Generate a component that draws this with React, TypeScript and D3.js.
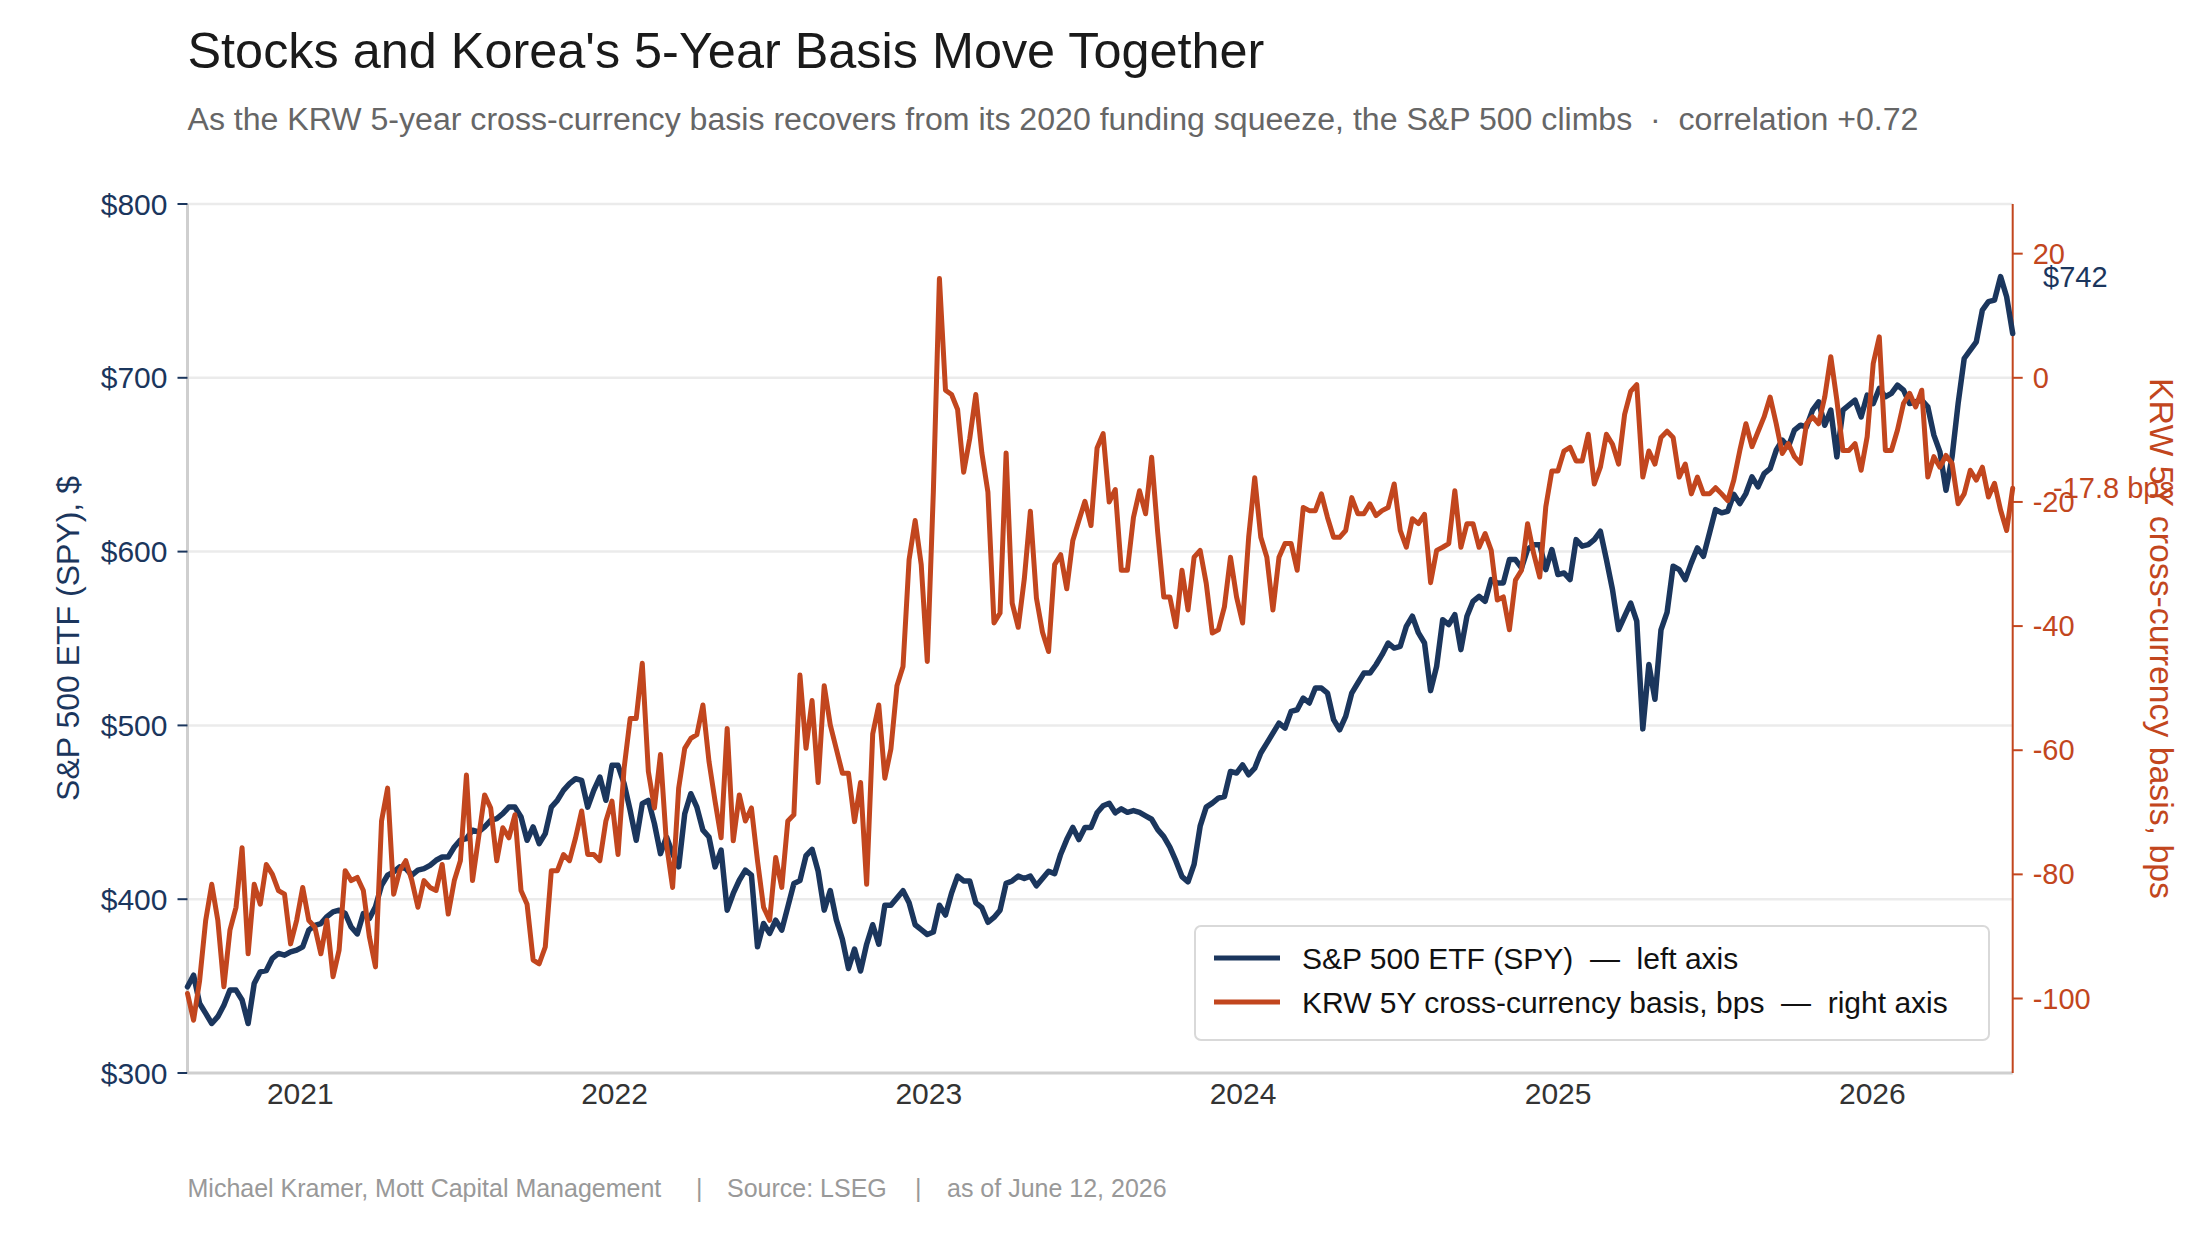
import React from "react";
import * as d3 from "d3";

// weekly samples, Aug 2020 -> Jun 2026
const spy: number[] = [
  349.6, 356.3, 340, 334.3, 328.5, 332.4, 339, 347.7, 347.7, 342,
  328.5, 351.5, 358.2, 359, 366, 368.8, 367.8, 369.7, 370.7, 372.6,
  382.2, 385, 386, 390, 392.7, 393.7, 391.8, 384, 380, 391.8,
  388.9, 395.6, 408, 413.8, 415.7, 418.6, 417.6, 413.8, 416.7, 417.6,
  419.5, 422.4, 424.3, 424.3, 430, 434, 434.9, 439.7, 438.7, 441.6,
  445.4, 446.4,
  449.2, 453, 453, 447.3, 433.9, 441.6, 432, 437.7, 453, 456.9,
  462.6, 466.5, 469.3, 468.4, 453, 462.6, 470.3, 456.9, 477, 477,
  466.5, 451.1, 433.9, 455, 456.9, 443.5, 426.2, 435.8, 426.2, 418.6,
  449.2, 460.7, 453, 439.7, 435.8, 418.6, 428.2, 393.7, 403.3, 410.9,
  416.7, 413.8, 372.6, 386, 380.3, 387.9, 382.2, 395.6, 409, 410.7,
  425,
  428.7, 416.1, 393.7, 404.9, 388.1, 376.9, 360.1, 371.3, 358.7, 374.1,
  385.3, 374.1, 396.5, 396.5, 400.7, 404.9, 397.9, 385.3, 382.5, 379.7,
  381.1, 396.5, 390.9, 403.5, 413.3, 410.5, 410.5, 397.9, 395.1, 386.7,
  389.5, 393.7, 409.1, 410.5, 413.3, 411.9, 413.3, 407.7, 411.9, 416.1,
  414.7, 425.9, 434.3, 441.3, 434.3, 441.3, 441.3, 449.7, 453.8, 455.2,
  449.7,
  452, 450, 451, 450, 448, 446, 440, 436, 430, 422, 413, 410, 420, 442, 453,
  455.3, 458.2, 459.1, 473.5, 472.6, 477.3, 471.6, 475.4, 484.1, 489.8,
  495.6, 501.3, 498.5, 508.1, 509, 515.7, 512.9, 521.5, 521.5, 518.6,
  503.3, 497.5, 505.2, 518.6, 524.4, 530.1, 530.1, 534.9, 540.7, 547.4,
  544.5, 545.5, 557, 562.8, 553.2, 547.4,
  520, 534, 560.8, 558, 563.7, 543.6, 562.8, 571.4, 574.3, 571.4,
  583.9, 582, 582, 595.4, 595.4, 590.6, 601.2, 604, 604, 589.6,
  601.2, 586.8, 587.7, 583.9, 606.9, 603.1, 604, 606.9, 611.7, 595.4,
  578.1, 555.1, 562.8, 570.4, 560, 498, 535, 515, 555, 565,
  591.6, 589.6, 583.9, 593.5, 602.1, 597.3, 610.7, 624.2, 622.3, 623.2,
  633, 627.6, 633.4, 643, 637.2, 644.9, 647.8, 658.3, 664.1, 660.3,
  669.9, 672.7, 671.8, 681.4, 686.2, 672.7, 681.4, 654.5, 681.4, 684.3,
  687.1, 677.5, 690, 685.2, 693.9, 689.1, 691, 695.8, 692.9, 685.2,
  686.2, 687.1, 683.3, 667, 657.4, 635.3, 654.5, 685.2, 711.1, 715.9,
  720.7, 739, 743.8, 744.7, 758.2, 746.6, 725.5,
];

const krw: number[] = [
  -99.2, -103.5, -97.1, -87.4, -81.6, -87.4, -98.1, -89, -85.3, -75.7,
  -92.8, -81.6, -84.8, -78.4, -80, -82.6, -83.2, -91.2, -87.4, -82.1,
  -87.4, -88.5, -92.8, -87.4, -96.5, -92.2, -79.4, -81, -80.5, -82.6,
  -90.1, -94.9, -71.4, -66.1, -83.2, -79.4, -77.8, -81, -85.3, -81,
  -82.1, -82.6, -78.4, -86.4, -81, -77.8, -64, -81, -74.1, -67.2,
  -69.3, -77.8,
  -72.5, -74.1, -70.4, -82.6, -84.8, -93.8, -94.4, -91.7, -79.4, -79.4,
  -76.8, -77.8, -74.1, -69.8, -76.8, -76.8, -77.8, -71.4, -68.2, -76.8,
  -62.9, -54.9, -54.9, -46, -63.4, -69.3, -60.7, -75.2, -82.1, -66.1,
  -59.7, -58.1, -57.5, -52.7, -61.8, -68.2, -74.1, -56.5, -74.6, -67.2,
  -71.4, -69.3, -77.8, -85.3, -87.4, -77.3, -82.1, -71.4, -70.4, -47.9,
  -59.7,
  -52, -65.2, -49.6, -55.9, -59.8, -63.7, -63.7, -71.5, -65.2, -81.6,
  -57.4, -52.7, -64.5, -59.8, -49.6, -46.5, -29.3, -23, -30.1, -45.7,
  -18.4, 16, -2, -2.7, -5.1, -15.2, -9.8, -2.7, -12.1, -18.4,
  -39.5, -37.9, -12.1, -36.3, -40.2, -32.4, -21.5, -35.5, -41, -44.1,
  -30.1, -28.5, -34, -26.2, -23, -19.9, -23.8, -11.3, -9, -20,
  -18,
  -31, -31, -22.5, -18.2, -21.9, -12.8, -24.9, -35.3, -35.3, -40.1,
  -31, -37.4, -28.9, -27.8, -33.1, -41.1, -40.6, -36.9, -28.9, -35.3,
  -39.5, -25.7, -16.1, -25.7, -28.9, -37.4, -28.9, -26.7, -26.7, -31,
  -20.9, -21.4, -21.4, -18.7, -22.5, -25.7, -25.7, -24.6, -19.3, -21.9,
  -21.9, -20.3, -22.2, -21.4, -20.9, -17.1, -24.6, -27.3, -22.7, -23.5,
  -22,
  -33, -27.8, -27.3, -26.7, -18.2, -27.3, -23.5, -23.5, -27.3, -25.1,
  -27.8, -35.8, -35.3, -40.6, -32.6, -31, -23.5, -28.3, -32.1, -20.8,
  -15, -15, -11.8, -11.2, -13.4, -13.4, -9.1, -17.1, -14.4, -9.1,
  -10.7, -13.9, -5.9, -2.2, -1.1, -16, -11.8, -13.9, -9.6, -8.6,
  -9.6, -16, -13.9, -18.7, -16, -18.7, -18.7, -17.7, -18.7, -19.8,
  -16.5, -11.7, -7.4, -11.1, -8.7, -6.3, -3.1, -7.4, -12.2, -10.6,
  -12.7, -13.8, -7.4, -6.3, -7.4, -3.1, 3.4, -3.6, -11.7, -11.7,
  -10.6, -14.9, -9.5, 2.3, 6.6, -11.7, -11.7, -8.4, -4.1, -2.5,
  -4.7, -2, -16, -12.7, -14.4, -12.5, -13.8, -20.3, -18.7, -14.9,
  -16.5, -14.4, -19.2, -17, -21.3, -24.6, -17.8,
];

const startDate = new Date(2020, 7, 23);
const endDate = new Date(2026, 5, 13);
const yearTicks = [2021, 2022, 2023, 2024, 2025, 2026];
const leftTicks = [300, 400, 500, 600, 700, 800];
const rightTicks = [20, 0, -20, -40, -60, -80, -100];
const spyLast = 742;
const krwLast = -17.8;

const NAVY = "#1b365d";
const ORANGE = "#c2461e";
const FONT = "'Liberation Sans', Arial, Helvetica, sans-serif";

const W = 2200;
const H = 1240;
const plot = { left: 187.5, right: 2012.7, top: 204, bottom: 1073 };

export default function App() {
  const n = spy.length;
  const dates = spy.map(
    (_, i) => new Date(startDate.getTime() + (i * (endDate.getTime() - startDate.getTime())) / (n - 1))
  );

  const x = d3.scaleTime().domain([startDate, endDate]).range([plot.left, plot.right]);
  const yL = d3.scaleLinear().domain([300, 800]).range([plot.bottom, plot.top]);
  const yR = d3.scaleLinear().domain([-112, 28]).range([plot.bottom, plot.top]);

  const spyLine = d3
    .line<number>()
    .x((_, i) => x(dates[i]))
    .y((d) => yL(d));
  const krwLine = d3
    .line<number>()
    .x((_, i) => x(dates[i]))
    .y((d) => yR(d));

  const midY = (plot.top + plot.bottom) / 2;

  return (
    <svg width={W} height={H} style={{ display: "block", background: "#fff" }} fontFamily={FONT}>
      <style>{`body{margin:0}`}</style>

      <text x={plot.left} y={68} fontSize={50.4} fill="#1a1a1a">
        Stocks and Korea's 5-Year Basis Move Together
      </text>
      <text x={plot.left} y={130} fontSize={32.1} fill="#666" style={{ whiteSpace: "pre" }}>
        {"As the KRW 5-year cross-currency basis recovers from its 2020 funding squeeze, the S&P 500 climbs  \u00b7  correlation +0.72"}
      </text>

      {/* gridlines */}
      {leftTicks.slice(1).map((t) => (
        <line key={t} x1={plot.left} x2={plot.right} y1={yL(t)} y2={yL(t)} stroke="#ebebeb" strokeWidth={2.5} />
      ))}

      {/* left axis */}
      <line x1={plot.left} x2={plot.left} y1={plot.top} y2={plot.bottom} stroke="#cfcfcf" strokeWidth={3} />
      {leftTicks.map((t) => (
        <g key={t}>
          <line x1={plot.left - 10} x2={plot.left} y1={yL(t)} y2={yL(t)} stroke={NAVY} strokeWidth={2} />
          <text x={plot.left - 20} y={yL(t)} fontSize={30} fill={NAVY} textAnchor="end" dominantBaseline="central">
            {`$${t}`}
          </text>
        </g>
      ))}
      <text
        transform={`translate(68,${midY}) rotate(-90)`}
        fontSize={32}
        fill={NAVY}
        textAnchor="middle"
        dominantBaseline="central"
      >
        S&amp;P 500 ETF (SPY), $
      </text>

      {/* bottom axis */}
      <line x1={plot.left} x2={plot.right} y1={plot.bottom} y2={plot.bottom} stroke="#cfcfcf" strokeWidth={3} />
      {yearTicks.map((yr) => (
        <text key={yr} x={x(new Date(yr, 0, 1))} y={1104} fontSize={30} fill="#333" textAnchor="middle">
          {yr}
        </text>
      ))}

      {/* right axis */}
      <line x1={plot.right} x2={plot.right} y1={plot.top} y2={plot.bottom} stroke={ORANGE} strokeWidth={2} />
      {rightTicks.map((t) => (
        <g key={t}>
          <line x1={plot.right} x2={plot.right + 10} y1={yR(t)} y2={yR(t)} stroke={ORANGE} strokeWidth={2} />
          <text x={plot.right + 20} y={yR(t)} fontSize={29} fill={ORANGE} dominantBaseline="central">
            {t}
          </text>
        </g>
      ))}
      <text
        transform={`translate(2162,${midY}) rotate(90)`}
        fontSize={33.8}
        fill={ORANGE}
        textAnchor="middle"
        dominantBaseline="central"
      >
        KRW 5Y cross-currency basis, bps
      </text>

      {/* series */}
      <path d={spyLine(spy) ?? ""} fill="none" stroke={NAVY} strokeWidth={5.5} strokeLinejoin="round" strokeLinecap="round" />
      <path d={krwLine(krw) ?? ""} fill="none" stroke={ORANGE} strokeWidth={5} strokeLinejoin="round" strokeLinecap="round" />

      {/* end labels */}
      <text x={2043} y={yL(spyLast) - 28} fontSize={29} fill={NAVY} dominantBaseline="central">
        {`$${spyLast}`}
      </text>
      <text x={2053} y={yR(krwLast)} fontSize={29} fill={ORANGE} dominantBaseline="central">
        {`${krwLast} bps`}
      </text>

      {/* legend */}
      <g>
        <rect x={1195} y={926} width={794} height={114} rx={6} fill="#fff" stroke="#d9d9d9" strokeWidth={2} />
        <line x1={1214} x2={1280} y1={958} y2={958} stroke={NAVY} strokeWidth={5} />
        <text x={1302} y={958} fontSize={30} fill="#111" dominantBaseline="central" style={{ whiteSpace: "pre" }}>
          {"S&P 500 ETF (SPY)  \u2014  left axis"}
        </text>
        <line x1={1214} x2={1280} y1={1002} y2={1002} stroke={ORANGE} strokeWidth={5} />
        <text x={1302} y={1002} fontSize={30} fill="#111" dominantBaseline="central" style={{ whiteSpace: "pre" }}>
          {"KRW 5Y cross-currency basis, bps  \u2014  right axis"}
        </text>
      </g>

      {/* footer */}
      <g fontSize={25} fill="#999">
        <text x={plot.left} y={1197}>Michael Kramer, Mott Capital Management</text>
        <text x={696} y={1197}>|</text>
        <text x={727} y={1197}>Source: LSEG</text>
        <text x={915} y={1197}>|</text>
        <text x={947} y={1197}>as of June 12, 2026</text>
      </g>
    </svg>
  );
}
